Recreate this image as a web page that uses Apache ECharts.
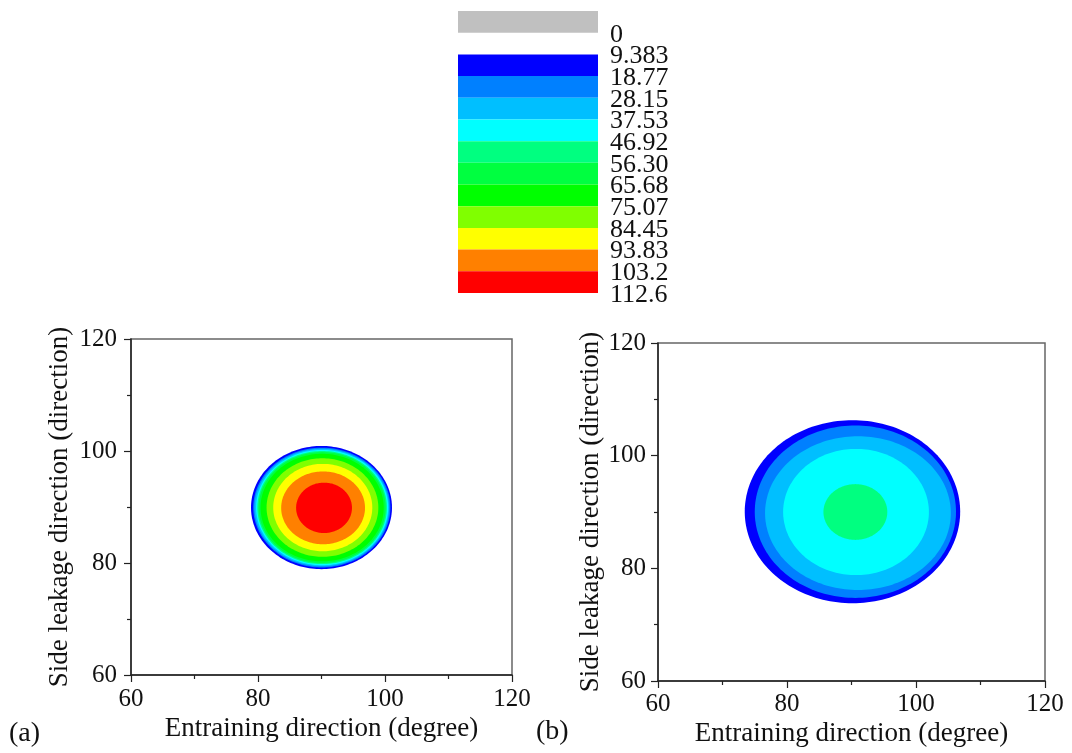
<!DOCTYPE html>
<html>
<head>
<meta charset="utf-8">
<title>Contact pressure contours</title>
<script src="https://cdn.jsdelivr.net/npm/echarts@6/dist/echarts.min.js"></script>
<style>
  html, body { margin: 0; padding: 0; background: #ffffff; }
  #chart { width: 1072px; height: 753px; }
</style>
</head>
<body>
<div id="chart"></div>
<script>
// Contour level boundaries and their printed labels
const levelValues = [0, 9.383, 18.77, 28.15, 37.53, 46.92, 56.30, 65.68, 75.07, 84.45, 93.83, 103.2, 112.6];
const levelLabels = ['0', '9.383', '18.77', '28.15', '37.53', '46.92', '56.30', '65.68', '75.07', '84.45', '93.83', '103.2', '112.6'];

// Fill colour of each band between consecutive levels (9.383 .. 112.6)
const bandColors = ['#0000ff', '#0080ff', '#00bfff', '#00ffff', '#00ff80', '#00ff40',
                    '#00ff00', '#80ff00', '#ffff00', '#ff8000', '#ff0000'];
const zeroColor = '#c0c0c0';

// Axis ticks (degrees)
const angleTicks = [60, 80, 100, 120];

// Panel (a): outline of each filled band, outermost first (degrees)
const bandsA = [0, 1, 2, 3, 4, 5, 6, 7, 8, 9, 10];
const centerXA = [90.0, 90.05, 90.05, 90.1, 90.1, 90.1, 90.1, 90.15, 90.2, 90.25, 90.4];
const centerYA = [89.9, 89.9, 89.9, 89.9, 89.9, 89.9, 89.9, 89.9, 89.9, 89.85, 89.85];
const halfWidthA = [11.1, 10.8, 10.6, 10.4, 10.2, 10.0, 9.7, 8.8, 7.8, 6.6, 4.4];
const halfHeightA = [11.0, 10.7, 10.5, 10.3, 10.1, 9.9, 9.6, 8.8, 7.8, 6.5, 4.5];

// Panel (b): outline of each filled band, outermost first (degrees)
const bandsB = [0, 1, 2, 3, 4];
const centerXB = [90.15, 90.6, 91.0, 90.7, 90.6];
const centerYB = [90.05, 90.05, 89.8, 90.0, 90.0];
const halfWidthB = [16.7, 15.6, 14.4, 11.3, 4.95];
const halfHeightB = [16.25, 15.3, 13.65, 11.2, 4.95];

const serif = '"Liberation Serif", "DejaVu Serif", serif';
const textColor = '#111';

function zip(bands, cx, cy, rx, ry) {
  return bands.map((b, i) => [b, cx[i], cy[i], rx[i], ry[i]]);
}

// Legend bars: the grey "0" swatch sits one level-step above zero
const levelStep = levelValues[1] - levelValues[0];
const legendRows = [];
legendRows.push([levelValues[0] - levelStep, levelValues[0], -1]);
for (let i = 1; i < levelValues.length - 1; i++) {
  legendRows.push([levelValues[i], levelValues[i + 1], i - 1]);
}
const legendTextRows = levelValues.map((v, i) => [v, i]);

function ellipseBand(params, api) {
  const fill = bandColors[api.value(0)];
  const cx = api.value(1), cy = api.value(2), rx = api.value(3), ry = api.value(4);
  const pts = [];
  const n = 180;
  for (let k = 0; k < n; k++) {
    const t = (k / n) * Math.PI * 2;
    pts.push(api.coord([cx + rx * Math.cos(t), cy + ry * Math.sin(t)]));
  }
  return { type: 'polygon', shape: { points: pts }, style: { fill: fill, stroke: null } };
}

function legendBar(params, api) {
  const lo = api.value(0), hi = api.value(1), idx = api.value(2);
  const a = api.coord([0, lo]);
  const b = api.coord([1, hi]);
  return {
    type: 'rect',
    shape: { x: a[0], y: Math.min(a[1], b[1]), width: b[0] - a[0], height: Math.abs(b[1] - a[1]) },
    style: { fill: idx < 0 ? zeroColor : bandColors[idx] }
  };
}

function legendText(params, api) {
  const p = api.coord([1, api.value(0)]);
  return {
    type: 'text',
    x: p[0] + 12,
    y: p[1] + 2,
    style: {
      text: levelLabels[api.value(1)],
      font: '26px ' + serif,
      fill: textColor,
      align: 'left',
      verticalAlign: 'middle'
    }
  };
}

function angleAxis(gridIndex, name, nameGap, labelMargin) {
  return {
    gridIndex: gridIndex,
    type: 'value',
    min: angleTicks[0],
    max: angleTicks[angleTicks.length - 1],
    interval: angleTicks[1] - angleTicks[0],
    name: name,
    nameLocation: 'middle',
    nameGap: nameGap,
    nameTextStyle: { fontFamily: serif, fontSize: 27, color: textColor },
    axisLine: { show: true, onZero: false, lineStyle: { color: '#222', width: 1.5 } },
    axisTick: { show: true, inside: false, length: 7, lineStyle: { color: '#222', width: 1.2 } },
    minorTick: { show: true, splitNumber: 2, length: 4, lineStyle: { color: '#222', width: 1.2 } },
    splitLine: { show: false },
    minorSplitLine: { show: false },
    axisLabel: { fontFamily: serif, fontSize: 25, color: textColor, margin: labelMargin }
  };
}

const chart = echarts.init(document.getElementById('chart'), null, { renderer: 'canvas' });

chart.setOption({
  backgroundColor: '#ffffff',
  animation: false,
  grid: [
    { left: 131, top: 339, width: 381, height: 336, show: true, borderColor: '#666', borderWidth: 1.5, backgroundColor: 'transparent' },
    { left: 658, top: 343, width: 387, height: 338, show: true, borderColor: '#666', borderWidth: 1.5, backgroundColor: 'transparent' },
    { left: 458, top: 11, width: 140, height: 282, show: false }
  ],
  xAxis: [
    angleAxis(0, 'Entraining direction (degree)', 40, 12),
    angleAxis(1, 'Entraining direction (degree)', 39, 11),
    { gridIndex: 2, type: 'value', min: 0, max: 1, show: false }
  ],
  yAxis: [
    angleAxis(0, 'Side leakage direction (direction)', 58, 14),
    angleAxis(1, 'Side leakage direction (direction)', 51, 12),
    {
      gridIndex: 2,
      type: 'value',
      inverse: true,
      min: levelValues[0] - levelStep,
      max: levelValues[levelValues.length - 1],
      show: false
    }
  ],
  series: [
    {
      type: 'custom',
      xAxisIndex: 0, yAxisIndex: 0,
      renderItem: ellipseBand,
      encode: { x: 1, y: 2 },
      data: zip(bandsA, centerXA, centerYA, halfWidthA, halfHeightA),
      clip: true, z: 1
    },
    {
      type: 'custom',
      xAxisIndex: 1, yAxisIndex: 1,
      renderItem: ellipseBand,
      encode: { x: 1, y: 2 },
      data: zip(bandsB, centerXB, centerYB, halfWidthB, halfHeightB),
      clip: true, z: 1
    },
    {
      type: 'custom',
      xAxisIndex: 2, yAxisIndex: 2,
      renderItem: legendBar,
      encode: { y: [0, 1] },
      data: legendRows,
      z: 1
    },
    {
      type: 'custom',
      xAxisIndex: 2, yAxisIndex: 2,
      renderItem: legendText,
      encode: { y: 0 },
      data: legendTextRows,
      z: 2
    }
  ],
  graphic: [
    { type: 'text', left: 9, top: 720, style: { text: '(a)', font: '28px ' + serif, fill: textColor } },
    { type: 'text', left: 536, top: 718, style: { text: '(b)', font: '28px ' + serif, fill: textColor } }
  ]
});
</script>
</body>
</html>
